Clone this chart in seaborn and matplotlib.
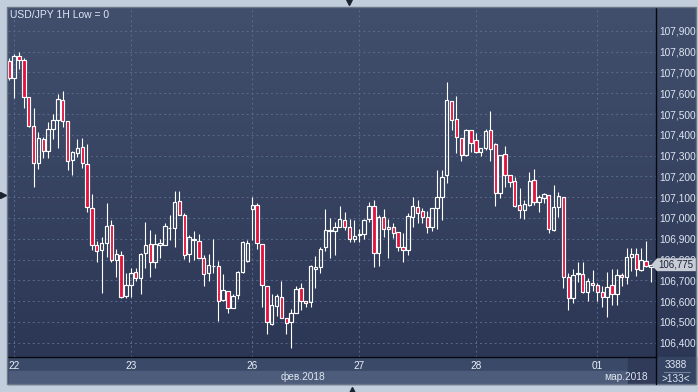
'''
Hourly USD/JPY candles for 22 Feb - 1 Mar 2018, drawn in the style of a
trading terminal window (dark gradient panel, hollow up candles, red down candles).
'''

import numpy as np
import matplotlib
matplotlib.use('Agg')
import matplotlib.pyplot as plt
import seaborn as sns
from matplotlib.colors import LinearSegmentedColormap
from matplotlib.patches import Rectangle, Polygon
from matplotlib.lines import Line2D
from matplotlib.ticker import FuncFormatter
import matplotlib.transforms as mtransforms

# OHLC data, one value per hourly candle
opens = [107.755, 107.671, 107.779, 107.759, 107.580, 107.443, 107.263, 107.378, 107.322, 107.426,
         107.469, 107.566, 107.466, 107.277, 107.311, 107.340, 107.258, 107.046, 106.868, 106.847,
         106.881, 106.964, 106.797, 106.820, 106.624, 106.676, 106.738, 106.712, 106.830, 106.873,
         106.786, 106.868, 106.871, 106.951, 106.950, 107.080, 107.012, 106.826, 106.892, 106.889,
         106.806, 106.733, 106.769, 106.770, 106.604, 106.650, 106.567, 106.628, 106.738, 106.791,
         107.041, 107.061, 106.874, 106.672, 106.491, 106.575, 106.618, 106.517, 106.498, 106.544,
         106.661, 106.599, 106.594, 106.756, 106.762, 106.859, 106.935, 106.935, 106.958, 106.988,
         106.955, 106.898, 106.916, 106.921, 106.993, 107.056, 106.830, 107.006, 106.945, 106.955,
         106.931, 106.859, 106.847, 107.006, 107.051, 107.032, 107.003, 106.958, 107.048, 107.099,
         107.206, 107.562, 107.474, 107.383, 107.304, 107.421, 107.373, 107.318, 107.335, 107.421,
         107.354, 107.121, 107.306, 107.205, 107.176, 107.061, 107.039, 107.063, 107.181, 107.078,
         107.094, 107.109, 106.942, 107.051, 107.099, 106.714, 106.613, 106.729, 106.729, 106.642,
         106.688, 106.676, 106.642, 106.621, 106.676, 106.634, 106.724, 106.714, 106.813, 106.825,
         106.748, 106.791, 106.762]
highs = [107.769, 107.788, 107.798, 107.768, 107.580, 107.527, 107.412, 107.391, 107.460, 107.500,
         107.594, 107.610, 107.466, 107.322, 107.379, 107.384, 107.354, 107.115, 106.890, 106.910,
         107.073, 106.990, 106.852, 106.842, 106.733, 106.760, 106.758, 106.830, 106.979, 106.942,
         106.921, 106.897, 106.975, 107.014, 107.129, 107.129, 107.025, 106.918, 106.937, 106.921,
         106.821, 106.826, 106.897, 106.794, 106.729, 106.650, 106.632, 106.745, 106.890, 106.894,
         107.099, 107.070, 106.874, 106.672, 106.634, 106.634, 106.696, 106.517, 106.560, 106.672,
         106.685, 106.599, 106.772, 106.815, 106.861, 107.041, 106.998, 106.982, 107.057, 107.028,
         106.993, 106.988, 106.948, 106.996, 107.075, 107.086, 107.014, 107.041, 106.993, 106.974,
         106.931, 106.926, 107.022, 107.102, 107.086, 107.046, 107.035, 107.048, 107.230, 107.230,
         107.654, 107.562, 107.586, 107.386, 107.426, 107.421, 107.407, 107.335, 107.426, 107.514,
         107.362, 107.301, 107.346, 107.205, 107.195, 107.142, 107.086, 107.219, 107.235, 107.112,
         107.121, 107.109, 107.158, 107.125, 107.099, 106.733, 106.754, 106.789, 106.789, 106.709,
         106.749, 106.685, 106.671, 106.738, 106.753, 106.754, 106.733, 106.854, 106.854, 106.857,
         106.854, 106.889, 106.772]
lows = [107.663, 107.578, 107.715, 107.527, 107.439, 107.150, 107.234, 107.290, 107.290, 107.378,
        107.335, 107.439, 107.230, 107.208, 107.291, 107.241, 107.030, 106.846, 106.789, 106.637,
        106.813, 106.789, 106.717, 106.613, 106.613, 106.621, 106.698, 106.635, 106.758, 106.717,
        106.760, 106.806, 106.870, 106.894, 106.861, 107.012, 106.801, 106.789, 106.797, 106.806,
        106.674, 106.698, 106.733, 106.505, 106.600, 106.544, 106.565, 106.608, 106.733, 106.789,
        106.894, 106.849, 106.570, 106.440, 106.483, 106.530, 106.517, 106.440, 106.373, 106.541,
        106.557, 106.573, 106.570, 106.661, 106.733, 106.842, 106.808, 106.820, 106.955, 106.942,
        106.885, 106.885, 106.885, 106.897, 106.979, 106.765, 106.770, 106.910, 106.806, 106.902,
        106.841, 106.789, 106.821, 106.958, 106.974, 106.977, 106.926, 106.938, 106.945, 106.990,
        107.169, 107.423, 107.311, 107.275, 107.298, 107.318, 107.311, 107.298, 107.327, 107.275,
        107.059, 107.097, 107.147, 107.147, 107.054, 107.001, 106.993, 107.059, 107.063, 107.030,
        107.070, 106.926, 106.938, 107.006, 106.661, 106.557, 106.589, 106.690, 106.640, 106.602,
        106.650, 106.602, 106.573, 106.525, 106.581, 106.581, 106.674, 106.682, 106.745, 106.722,
        106.745, 106.762, 106.690]
closes = [107.673, 107.780, 107.759, 107.580, 107.443, 107.263, 107.383, 107.322, 107.426, 107.469,
          107.570, 107.466, 107.272, 107.315, 107.335, 107.263, 107.051, 106.868, 106.842, 106.878,
          106.961, 106.797, 106.825, 106.621, 106.676, 106.736, 106.709, 106.825, 106.868, 106.786,
          106.873, 106.878, 106.960, 106.954, 107.078, 107.012, 106.820, 106.907, 106.898, 106.806,
          106.729, 106.772, 106.771, 106.600, 106.652, 106.568, 106.626, 106.738, 106.884, 106.878,
          107.061, 106.878, 106.676, 106.498, 106.580, 106.623, 106.517, 106.493, 106.541, 106.658,
          106.599, 106.589, 106.767, 106.762, 106.852, 106.940, 106.940, 106.955, 106.993, 106.955,
          106.897, 106.911, 106.921, 106.991, 107.057, 106.830, 107.003, 106.945, 106.958, 106.926,
          106.860, 106.844, 107.008, 107.056, 107.025, 107.003, 106.958, 107.048, 107.099, 107.198,
          107.566, 107.471, 107.388, 107.304, 107.421, 107.362, 107.318, 107.335, 107.416, 107.330,
          107.121, 107.301, 107.205, 107.171, 107.059, 107.037, 107.065, 107.176, 107.075, 107.099,
          107.113, 106.945, 107.051, 107.104, 106.714, 106.613, 106.724, 106.733, 106.645, 106.695,
          106.676, 106.642, 106.619, 106.669, 106.634, 106.724, 106.714, 106.810, 106.825, 106.753,
          106.797, 106.767, 106.775]

# axis labels
day_idx = [1, 25, 50, 72, 96, 121]
day_labels = ['22', '23', '26', '27', '28', '01']
month_labels = ['фев.2018', 'мар.2018']
month_idx = [60.5, 127]
price_ticks = [106.4, 106.5, 106.6, 106.7, 106.8, 106.9, 107.0, 107.1,
               107.2, 107.3, 107.4, 107.5, 107.6, 107.7, 107.8, 107.9]
title = 'USD/JPY 1H Low = 0'
bar_count = '3388'
visible_count = '>133<'

# colours
up_color = 'none'
down_color = '#e3113d'
line_color = '#ffffff'
text_color = '#dfe7f3'
grid_color = '#5a6a8d'

W, H = 698, 392


def fx(px):
    return px / W


def fy(py):
    return 1 - py / H


def main():
    sns.set_theme(style='dark')
    plt.rcParams['font.family'] = ['Liberation Sans', 'DejaVu Sans']

    fig = plt.figure(figsize=(W / 100, H / 100), dpi=100, facecolor='#c3cedc')

    # gradient background for the whole terminal panel
    bg = fig.add_axes([fx(7), fy(384), fx(696 - 7), (384 - 7) / H], zorder=-2)
    cmap = LinearSegmentedColormap.from_list('panel', ['#414f6d', '#2a3553'])
    bg.imshow(np.linspace(0, 1, 256).reshape(-1, 1), cmap=cmap, aspect='auto',
              extent=[0, 1, 0, 1])
    bg.set_axis_off()

    # time axis bands
    fig.patches.append(Rectangle((fx(8), fy(384)), fx(648), (384 - 357) / H,
                                 transform=fig.transFigure, color='#3b4968', zorder=-1))
    fig.patches.append(Rectangle((fx(9), fy(383)), fx(619), 12 / H,
                                 transform=fig.transFigure, color='#4d5c7b', zorder=-1))
    fig.patches.append(Rectangle((fx(628), fy(383)), fx(27), 25 / H,
                                 transform=fig.transFigure, color='#2f3b59', zorder=-1))
    fig.patches.append(Rectangle((fx(656), fy(384)), fx(40), (384 - 357) / H,
                                 transform=fig.transFigure, color='#364463', zorder=-1))
    fig.patches.append(Rectangle((fx(7), fy(384)), fx(689), (384 - 7) / H,
                                 transform=fig.transFigure, fill=False,
                                 edgecolor='#6c7889', linewidth=1))

    # main price panel
    ax = fig.add_axes([fx(8), fy(357), fx(655.5 - 8), (357 - 8) / H])
    ax.set_facecolor('none')

    n = len(opens)
    x = np.arange(n)
    o = np.array(opens)
    c = np.array(closes)
    top = np.maximum(o, c)
    bot = np.minimum(o, c)
    is_down = c < o
    face = [down_color if d else up_color for d in is_down]

    # wicks above and below the body, so hollow bodies stay empty
    ax.vlines(x, top, highs, color=line_color, linewidth=0.8, zorder=3)
    ax.vlines(x, lows, bot, color=line_color, linewidth=0.8, zorder=3)
    ax.bar(x, np.maximum(top - bot, 0.0015), bottom=bot, width=0.7,
           color=face, edgecolor=line_color, linewidth=0.85, zorder=4)

    ax.set_xlim(-0.27, 132.96)
    ax.set_ylim(106.331, 108.010)

    ax.set_xticks(day_idx)
    ax.set_xticklabels(day_labels)
    ax.set_yticks(price_ticks)
    ax.yaxis.set_major_formatter(FuncFormatter(lambda v, _: f'{v:.3f}'.replace('.', ',')))
    ax.yaxis.tick_right()
    ax.tick_params(axis='y', length=0, pad=2.6, labelsize=7.3, labelcolor=text_color)
    ax.tick_params(axis='x', length=0, pad=2.8, labelsize=7.3, labelcolor='#e8eef7')
    ax.grid(True, color=grid_color, linestyle=(0, (2, 3)), linewidth=0.7)

    for side in ['left', 'top']:
        ax.spines[side].set_visible(False)
    for side in ['right', 'bottom']:
        ax.spines[side].set_color('#05080f')
        ax.spines[side].set_linewidth(1.0)
    fig.lines.append(Line2D([fx(655.5), fx(655.5)], [fy(357), fy(384)],
                            transform=fig.transFigure, color='#05080f', linewidth=1.0))

    ax.text(0.003, 0.98, title, transform=ax.transAxes, ha='left', va='center',
            fontsize=7.5, color=text_color)

    # month names under the day labels
    for lbl, mi in zip(month_labels, month_idx):
        ax.text(mi, -0.058, lbl, transform=mtransforms.blended_transform_factory(
            ax.transData, ax.transAxes), ha='center', va='center', fontsize=7.3,
            color='#dfe6f1', clip_on=False)

    # last price tag, drawn over the axis label it hides
    last = closes[-1]
    half = 0.031
    tr = mtransforms.blended_transform_factory(ax.transAxes, ax.transData)
    tag = Polygon([(0.9938, last), (1.0023, last + half), (1.0625, last + half),
                   (1.0625, last - half), (1.0023, last - half)], closed=True,
                  transform=tr, facecolor='#c9cdd5', edgecolor='none',
                  clip_on=False, zorder=6)
    ax.add_patch(tag)
    ax.text(1.0045, last, f'{last:.3f}'.replace('.', ','), transform=tr, ha='left',
            va='center', fontsize=7.0, color='#18213a', clip_on=False, zorder=7)

    # bar counters in the corner
    fig.text(fx(676), fy(364.5), bar_count, ha='center', va='center', fontsize=7.2,
             color=text_color)
    fig.lines.append(Line2D([fx(664), fx(690)], [fy(371.5), fy(371.5)],
                            transform=fig.transFigure, color='#6f7f9c', linewidth=0.8))
    fig.text(fx(676), fy(378.5), visible_count, ha='center', va='center', fontsize=7.2,
             color=text_color)

    # small scroll arrows in the frame
    fig.lines.append(Line2D([fx(349)], [fy(1.8)], transform=fig.transFigure, marker='v',
                            markersize=5, color='#1c2330', linestyle='none'))
    fig.lines.append(Line2D([fx(352)], [fy(389.5)], transform=fig.transFigure, marker='^',
                            markersize=5, color='#1c2330', linestyle='none'))
    fig.lines.append(Line2D([fx(3)], [fy(195)], transform=fig.transFigure, marker='>',
                            markersize=5, color='#1c2330', linestyle='none'))

    fig.savefig('out.png', dpi=100, facecolor=fig.get_facecolor())


if __name__ == '__main__':
    main()
